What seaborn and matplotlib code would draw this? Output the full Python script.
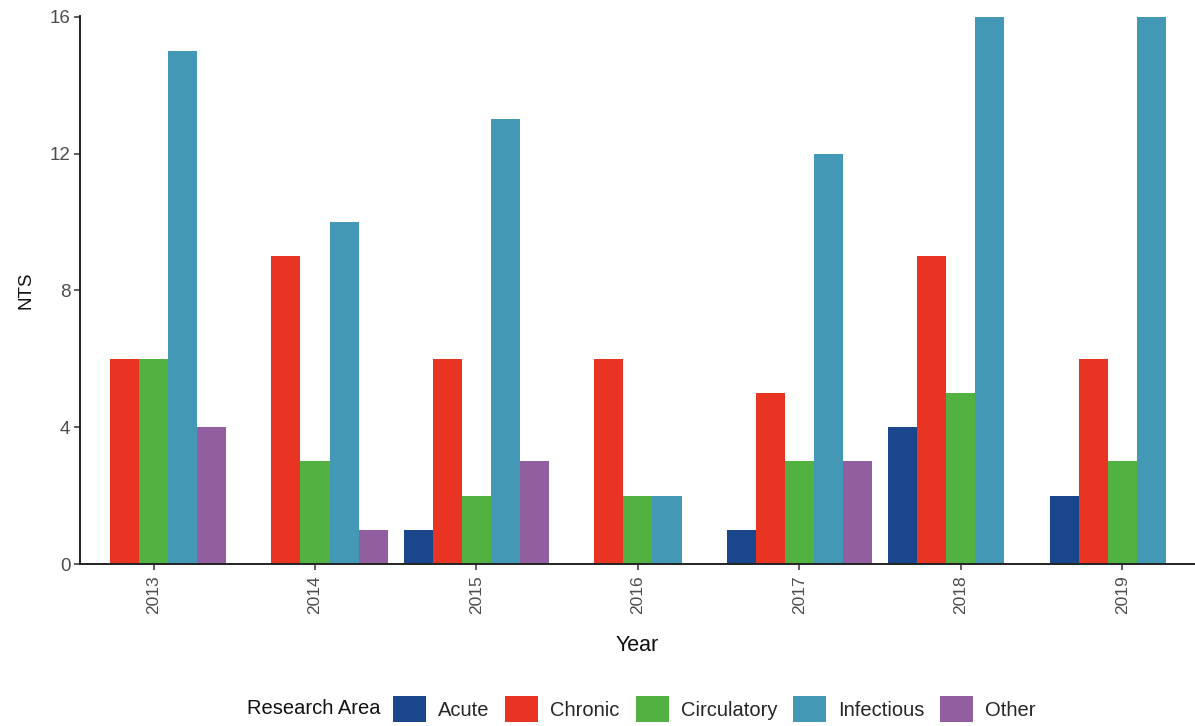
import numpy as np
import pandas as pd
import matplotlib
matplotlib.use("Agg")
import matplotlib.pyplot as plt
import seaborn as sns
from matplotlib.patches import Patch

# --- DATA ---
years = ["2013", "2014", "2015", "2016", "2017", "2018", "2019"]
areas = ["Acute", "Chronic", "Circulatory", "Infectious", "Other"]
acute = [0, 0, 1, 0, 1, 4, 2]
chronic = [6, 9, 6, 6, 5, 9, 6]
circulatory = [6, 3, 2, 2, 3, 5, 3]
infectious = [15, 10, 13, 2, 12, 16, 16]
other = [4, 1, 3, 0, 3, 0, 0]
colors = ["#1A478B", "#E93323", "#52B241", "#4398B5", "#915FA0"]

sns.set_style("white")
plt.rcParams['font.family'] = ['Liberation Sans', 'DejaVu Sans']

df = pd.DataFrame({"Year": years, "Acute": acute, "Chronic": chronic,
                   "Circulatory": circulatory, "Infectious": infectious, "Other": other})
long = df.melt(id_vars="Year", var_name="Research Area", value_name="NTS")

fig = plt.figure(figsize=(11.95, 7.26), dpi=100)
ax = fig.add_axes([0.067, 0.223, 0.933, 0.755])

sns.barplot(data=long, x="Year", y="NTS", hue="Research Area", hue_order=areas,
            order=years, palette=colors, width=0.9, saturation=1, errorbar=None,
            linewidth=0, ax=ax, legend=False)

ax.set_xlim(-0.455, 6.45)
ax.set_ylim(0, 16.02)
ax.set_yticks([0, 4, 8, 12, 16])
for s in ["top", "right"]:
    ax.spines[s].set_visible(False)
for s in ["left", "bottom"]:
    ax.spines[s].set_color("#222222")
    ax.spines[s].set_linewidth(1.4)
ax.tick_params(axis="both", which="both", length=4, width=1.1, color="#333333",
               labelcolor="#4D4D4D", left=True, bottom=True)
ax.tick_params(axis="x", labelrotation=90, pad=4, labelsize=12.5)
ax.tick_params(axis="y", pad=3, labelsize=13.5)
ax.set_xlabel("Year", fontsize=15.5, color="#111111", labelpad=15)
ax.set_ylabel("NTS", fontsize=13.5, color="#111111", labelpad=11)

handles = [Patch(facecolor=c, edgecolor="none", label=a) for c, a in zip(colors, areas)]
fig.text(247 / 1195, 17 / 726, "Research Area", fontsize=14.5, color="#111111",
         ha="left", va="center")
fig.legend(handles=handles, loc="center left", bbox_to_anchor=(393 / 1195, 17 / 726),
           ncol=5, frameon=False, fontsize=14.5, handlelength=1.64, handleheight=1.59,
           handletextpad=0.6, columnspacing=0.78, borderpad=0, borderaxespad=0)

plt.savefig("out.png", dpi=100)
plt.close()
